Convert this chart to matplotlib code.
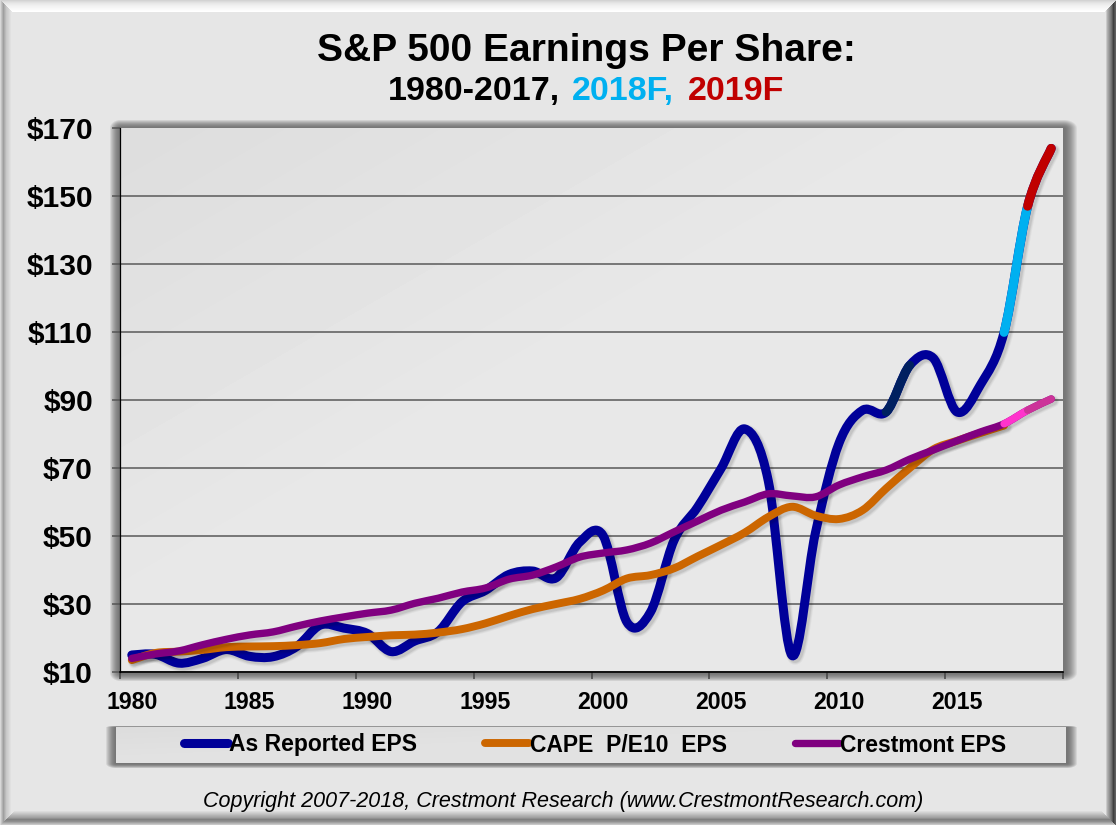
# S&P 500 EPS chart: as reported, CAPE E10 and Crestmont EPS, annual values

import numpy as np
import matplotlib
matplotlib.use("Agg")
import matplotlib.pyplot as plt
import matplotlib.patheffects as pe
from matplotlib.lines import Line2D
from matplotlib.patches import PathPatch
from matplotlib.path import Path

plt.rcParams["font.family"] = ["Liberation Sans", "DejaVu Sans"]

# ── data ──────────────────────────────────────────────────────────────────────
YEARS = list(range(1980, 2020))

REPORTED_EPS = [
    15.0, 15.2, 12.6, 14.0, 16.6, 14.6, 14.5, 17.5, 23.8, 22.9,
    21.3, 16.0, 19.1, 21.9, 30.6, 34.0, 38.7, 39.7, 37.7, 48.2,
    50.0, 24.7, 27.6, 48.7, 58.5, 69.9, 81.5, 66.2, 14.9, 51.0,
    77.3, 87.0, 86.5, 100.2, 102.3, 86.5, 94.5, 109.9, 147.0, 164.0,
]
CAPE_EPS = [
    13.5, 15.6, 16.0, 16.5, 17.3, 17.5, 17.6, 17.9, 18.5, 19.7,
    20.3, 20.8, 21.0, 21.6, 22.6, 24.3, 26.5, 28.5, 30.0, 31.5,
    34.0, 37.5, 38.5, 40.5, 44.0, 47.4, 51.0, 55.6, 58.6, 56.0,
    55.0, 57.6, 64.0, 70.0, 75.5, 78.0, 80.3, 82.5,
]
CRESTMONT_EPS = [
    14.0, 15.3, 16.2, 18.0, 19.6, 20.9, 21.8, 23.5, 25.0, 26.2,
    27.3, 28.2, 30.2, 31.7, 33.5, 34.7, 37.3, 38.5, 40.9, 43.8,
    45.0, 45.9, 47.9, 51.2, 54.4, 57.6, 60.0, 62.4, 61.8, 61.5,
    65.0, 67.4, 69.4, 72.6, 75.3, 78.0, 80.6, 83.0, 87.0, 90.3,
]

Y_TICKS = [10, 30, 50, 70, 90, 110, 130, 150, 170]
X_EDGES = [1980, 1985, 1990, 1995, 2000, 2005, 2010, 2015, 2020]
X_LABELS = [1980, 1985, 1990, 1995, 2000, 2005, 2010, 2015]

# (first year, last year, colour) painted over the base line
REPORTED_SEGMENTS = [(2012, 2013, "#002060"), (2017, 2018, "#00B0F0"), (2018, 2019, "#C00000")]
CRESTMONT_SEGMENTS = [(2017, 2018, "#FF33CC"), (2018, 2019, "#CC3399")]

BLUE = "#000099"
ORANGE = "#CC6600"
PURPLE = "#800080"

LW_BLUE = 6.5
LW_ORANGE = 5.7
LW_PURPLE = 5.3

# ── layout (pixels) ───────────────────────────────────────────────────────────
W, H = 1116, 825
PLOT = (120, 128, 1063, 672)     # left, top, right, bottom
LEGEND_BOX = (116, 727, 1066, 763)


# ── background ────────────────────────────────────────────────────────────────

def soft_shadow(img, box, left, top, right, bottom, dark=118.0):
    x0, y0, x1, y1 = box
    yy, xx = np.mgrid[0:H, 0:W]
    dx = np.maximum.reduce([(x0 - xx) / left, (xx - x1) / right, np.zeros_like(xx, dtype=float)])
    dy = np.maximum.reduce([(y0 - yy) / top, (yy - y1) / bottom, np.zeros_like(yy, dtype=float)])
    t = np.clip(np.hypot(dx, dy), 0, 1)
    return np.minimum(img, dark + (230.0 - dark) * t ** 1.8)


def paint_box(img, box, c0, c1):
    x0, y0, x1, y1 = box
    yy, xx = np.mgrid[y0:y1, x0:x1]
    t = ((xx - x0) / (x1 - x0) + (yy - y0) / (y1 - y0)) / 2
    img[y0:y1, x0:x1] = c0 + (c1 - c0) * np.clip(t * 2.2, 0, 1)


def background():
    img = np.full((H, W), 230.0)
    img = soft_shadow(img, PLOT, 11, 9, 14, 9)
    img = soft_shadow(img, LEGEND_BOX, 11, 2, 11, 5)
    paint_box(img, PLOT, 221.0, 232.0)
    paint_box(img, LEGEND_BOX, 220.0, 226.0)

    # bevelled frame with mitred corners
    yy, xx = np.mgrid[0:H, 0:W]
    sides = np.stack([xx, yy, W - 1 - xx, H - 1 - yy])
    side = sides.argmin(axis=0)
    dist = sides.min(axis=0)
    profiles = [
        ([0, 2, 3, 6, 11], [216, 176, 159, 200, 230]),
        ([0, 3, 5, 11, 12], [212, 232, 240, 255, 230]),
        ([0, 2, 4, 8, 10], [96, 64, 112, 176, 230]),
        ([0, 3, 5, 7, 14], [200, 144, 128, 160, 230]),
    ]
    for i, (xp, fp) in enumerate(profiles):
        m = (side == i) & (dist <= xp[-1])
        img[m] = np.interp(dist[m], xp, fp)
    return img


# ── smoothed lines ────────────────────────────────────────────────────────────

def smooth_path(x, y, i0=0, i1=None):
    # cubic bezier through the annual points, same kind of smoothing as a spreadsheet line
    i1 = len(x) - 1 if i1 is None else i1
    verts = [(x[i0], y[i0])]
    codes = [Path.MOVETO]
    for i in range(i0, i1):
        p0 = max(i - 1, 0)
        p3 = min(i + 2, len(x) - 1)
        verts.append((x[i] + (x[i + 1] - x[p0]) / 6, y[i] + (y[i + 1] - y[p0]) / 6))
        verts.append((x[i + 1] - (x[p3] - x[i]) / 6, y[i + 1] - (y[p3] - y[i]) / 6))
        verts.append((x[i + 1], y[i + 1]))
        codes += [Path.CURVE4] * 3
    return Path(verts, codes)


def draw_series(ax, values, color, lw, segments=(), cap="round", zorder=3):
    x = np.array(YEARS[:len(values)]) + 0.5
    y = np.array(values, dtype=float)
    shadow = [
        pe.Stroke(linewidth=lw + 3.2, foreground="k", alpha=0.035, offset=(1.6, -1.6)),
        pe.Stroke(linewidth=lw + 1.8, foreground="k", alpha=0.05, offset=(1.6, -1.6)),
        pe.Stroke(linewidth=lw + 0.4, foreground="k", alpha=0.07, offset=(1.6, -1.6)),
        pe.Normal(),
    ]
    base = PathPatch(smooth_path(x, y), fill=False, edgecolor=color, lw=lw, capstyle=cap,
                     joinstyle="round", zorder=zorder, path_effects=shadow)
    ax.add_patch(base)
    for first, last, seg_color in segments:
        seg = smooth_path(x, y, first - YEARS[0], last - YEARS[0])
        ax.add_patch(PathPatch(seg, fill=False, edgecolor=seg_color, lw=lw, capstyle="round",
                               zorder=zorder + 0.1))


# ── figure ────────────────────────────────────────────────────────────────────
fig = plt.figure(figsize=(W / 100, H / 100), dpi=100)

bg = fig.add_axes([0, 0, 1, 1], zorder=0)
bg.imshow(background(), cmap="gray", vmin=0, vmax=255, aspect="auto", interpolation="nearest")
bg.axis("off")

ax = fig.add_axes([PLOT[0] / W, 1 - PLOT[3] / H, (PLOT[2] - PLOT[0]) / W, (PLOT[3] - PLOT[1]) / H], zorder=1)
ax.patch.set_visible(False)
ax.set_xlim(1980, 2020)
ax.set_ylim(10, 170)

ax.set_yticks(Y_TICKS)
ax.set_yticklabels([f"${v}" for v in Y_TICKS], fontsize=21.6, fontweight="bold")
ax.tick_params(axis="y", length=6, width=1.1, color="#555555", pad=13.5)
ax.yaxis.grid(True, color="#6E6E6E", lw=1.3)
ax.yaxis.get_gridlines()[-1].set_visible(False)
ax.set_axisbelow(True)

ax.set_xticks(X_EDGES)
ax.set_xticklabels([])
ax.set_xticks([v + 0.5 for v in X_LABELS], minor=True)
ax.set_xticklabels([str(v) for v in X_LABELS], minor=True, fontsize=16.7, fontweight="bold")
ax.tick_params(axis="x", which="major", length=5, width=1.1, color="#444444")
ax.tick_params(axis="x", which="minor", length=0, pad=14)

for s in ("top", "right"):
    ax.spines[s].set_visible(False)
ax.spines["left"].set_linewidth(0.9)
ax.spines["bottom"].set_linewidth(1.2)

draw_series(ax, REPORTED_EPS, BLUE, LW_BLUE, REPORTED_SEGMENTS, zorder=3)
draw_series(ax, CAPE_EPS, ORANGE, LW_ORANGE, zorder=4)
draw_series(ax, CRESTMONT_EPS, PURPLE, LW_PURPLE, CRESTMONT_SEGMENTS, zorder=5)

# ── titles ────────────────────────────────────────────────────────────────────
fig.text(586 / W, 1 - 61 / H, "S&P 500 Earnings Per Share:", ha="center", va="baseline",
         fontsize=28.1, fontweight="bold", color="k")

line2 = [("1980-2017,", "k", 388), ("2018F,", "#00B0F0", 572), ("2019F", "#C00000", 688)]
for txt, col, x_px in line2:
    fig.text(x_px / W, 1 - 100 / H, txt, ha="left", va="baseline", fontsize=24.5,
             fontweight="bold", color=col)

fig.text(563 / W, 1 - 807 / H, "Copyright 2007-2018, Crestmont Research (www.CrestmontResearch.com)",
         ha="center", va="baseline", fontsize=15.5, style="italic", color="k")

# ── legend ────────────────────────────────────────────────────────────────────
handles = [
    Line2D([], [], color=BLUE, lw=LW_BLUE, solid_capstyle="round"),
    Line2D([], [], color=ORANGE, lw=LW_ORANGE, solid_capstyle="round"),
    Line2D([], [], color=PURPLE, lw=LW_PURPLE, solid_capstyle="round"),
]
fig.legend(handles, ["As Reported EPS", "CAPE  P/E10  EPS", "Crestmont EPS"],
           loc="center", bbox_to_anchor=(595 / W, 1 - 745 / H), ncol=3, frameon=False,
           prop={"size": 16.5, "weight": "bold"}, handlelength=1.93, handletextpad=0.04,
           columnspacing=2.95, borderpad=0, borderaxespad=0)

fig.savefig("out.png", dpi=100)
